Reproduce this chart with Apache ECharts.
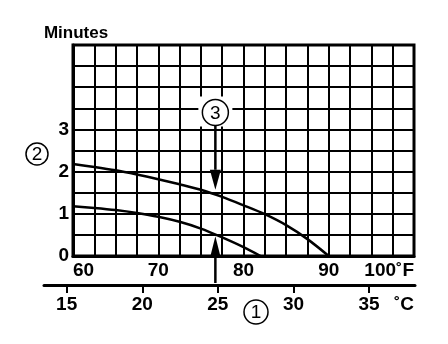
<!DOCTYPE html>
<html>
<head>
<meta charset="utf-8">
<script src="https://cdn.jsdelivr.net/npm/echarts@6/dist/echarts.min.js"></script>
<style>
html,body{margin:0;padding:0;background:#fff;}
#c{width:448px;height:344px;}
</style>
</head>
<body>
<div id="c"></div>
<script>
// ---- data ----
const fahrenheitTicks = [60, 70, 80, 90, 100];
const celsiusTicks = [15, 20, 25, 30, 35];
const minuteTicks = [0, 1, 2, 3];
const upperF   = [60, 62.5, 65, 67.5, 70, 72.5, 75, 77.5, 80, 82.5, 85, 87.5, 90];
const upperMin = [2.18, 2.11, 2.03, 1.93, 1.82, 1.70, 1.57, 1.40, 1.20, 0.99, 0.73, 0.40, 0];
const lowerF   = [60, 62.5, 65, 67.5, 70, 72.5, 75, 77.5, 80, 82];
const lowerMin = [1.18, 1.14, 1.09, 1.02, 0.93, 0.81, 0.65, 0.44, 0.21, 0];
const markerF = 76.7;           // position of the arrows (approx. 25 °C)
const downArrow = [3.1, 1.57];  // minutes: from, to
const upArrow = [-0.64, 0.47];  // minutes: from, to

const FONT = '"Liberation Sans", Arial, sans-serif';
const chart = echarts.init(document.getElementById('c'), null, {renderer: 'canvas'});

const toPairs = (xs, ys) => xs.map((x, i) => [x, ys[i]]);

chart.setOption({
  animation: false,
  backgroundColor: '#fff',
  grid: [
    {left: 73, right: 34, top: 45, bottom: 88, show: true, borderColor: '#000', borderWidth: 3},
    {left: 44, right: 33, top: 284, height: 1}
  ],
  xAxis: [
    {
      type: 'value', gridIndex: 0, min: 60, max: 100, interval: 2.5,
      axisLine: {show: true, lineStyle: {color: '#000', width: 3}},
      axisTick: {show: false},
      splitLine: {show: true, lineStyle: {color: '#000', width: 2}},
      axisLabel: {
        color: '#000', fontSize: 19, fontWeight: 'bold', fontFamily: FONT, margin: 5,
        alignMinLabel: 'left', alignMaxLabel: 'right',
        formatter: v => fahrenheitTicks.includes(v) ? (v === 100 ? '100˚F' : String(v)) : ''
      }
    },
    {
      type: 'value', gridIndex: 1, min: 13.5, max: 38.04,
      axisLine: {show: true, lineStyle: {color: '#000', width: 3}},
      axisTick: {show: true, length: 8, lineStyle: {color: '#000', width: 2}, customValues: celsiusTicks},
      splitLine: {show: false},
      axisLabel: {color: '#000', fontSize: 19, fontWeight: 'bold', fontFamily: FONT, margin: 10, customValues: celsiusTicks}
    }
  ],
  yAxis: [
    {
      type: 'value', gridIndex: 0, min: 0, max: 5, interval: 0.5,
      name: 'Minutes', nameLocation: 'end', nameGap: 3,
      nameTextStyle: {color: '#000', fontSize: 17, fontWeight: 'bold', fontFamily: FONT, align: 'center', padding: [0, 0, 0, 6]},
      axisLine: {show: true, lineStyle: {color: '#000', width: 3}},
      axisTick: {show: false},
      splitLine: {show: true, lineStyle: {color: '#000', width: 2}},
      axisLabel: {
        color: '#000', fontSize: 19, fontWeight: 'bold', fontFamily: FONT, margin: 4,
        formatter: v => minuteTicks.includes(v) ? String(v) : ''
      }
    },
    {type: 'value', gridIndex: 1, show: false, min: 0, max: 1}
  ],
  series: [
    {type: 'line', xAxisIndex: 0, yAxisIndex: 0, data: toPairs(upperF, upperMin), smooth: 0.3,
     showSymbol: false, lineStyle: {color: '#000', width: 2.5}, z: 5},
    {type: 'line', xAxisIndex: 0, yAxisIndex: 0, data: toPairs(lowerF, lowerMin), smooth: 0.3,
     showSymbol: false, lineStyle: {color: '#000', width: 2.5}, z: 5}
  ]
});

function px(f, m) { return chart.convertToPixel({xAxisIndex: 0, yAxisIndex: 0}, [f, m]); }
function arrow(fromM, toM, headLen, headW) {
  const a = px(markerF, fromM), b = px(markerF, toM);
  const dir = b[1] > a[1] ? 1 : -1;
  const baseY = b[1] - dir * headLen;
  return [
    {type: 'line', shape: {x1: a[0], y1: a[1], x2: b[0], y2: baseY}, style: {stroke: '#000', lineWidth: 2.5}, z: 20},
    {type: 'polygon', shape: {points: [[b[0], b[1]], [b[0] - headW / 2, baseY], [b[0] + headW / 2, baseY]]},
     style: {fill: '#000'}, z: 20}
  ];
}
function circled(cx, cy, r, label) {
  return [
    {type: 'circle', shape: {cx: cx, cy: cy, r: r}, style: {fill: '#fff', stroke: '#000', lineWidth: 1.5}, z: 30},
    {type: 'text', x: cx, y: cy + 1, style: {text: label, fill: '#000', font: '19px ' + FONT, align: 'center', verticalAlign: 'middle'}, z: 31}
  ];
}
const c3 = px(markerF, 3.4);
const graphics = []
  .concat([{type: 'rect', shape: {x: c3[0] - 17, y: c3[1] - 16, width: 34, height: 30}, style: {fill: '#fff'}, z: 19}])
  .concat(arrow(downArrow[0], downArrow[1], 20, 11))
  .concat(arrow(upArrow[0], upArrow[1], 20, 10))
  .concat(circled(c3[0], c3[1], 13, '3'))
  .concat(circled(37, 154, 11, '2'))
  .concat(circled(256, 312, 12, '1'))
  .concat([{type: 'text', x: 414, y: 305, style: {text: '˚C', fill: '#000', font: 'bold 19px ' + FONT, align: 'right', verticalAlign: 'middle'}, z: 20}]);
chart.setOption({graphic: graphics});
</script>
</body>
</html>
